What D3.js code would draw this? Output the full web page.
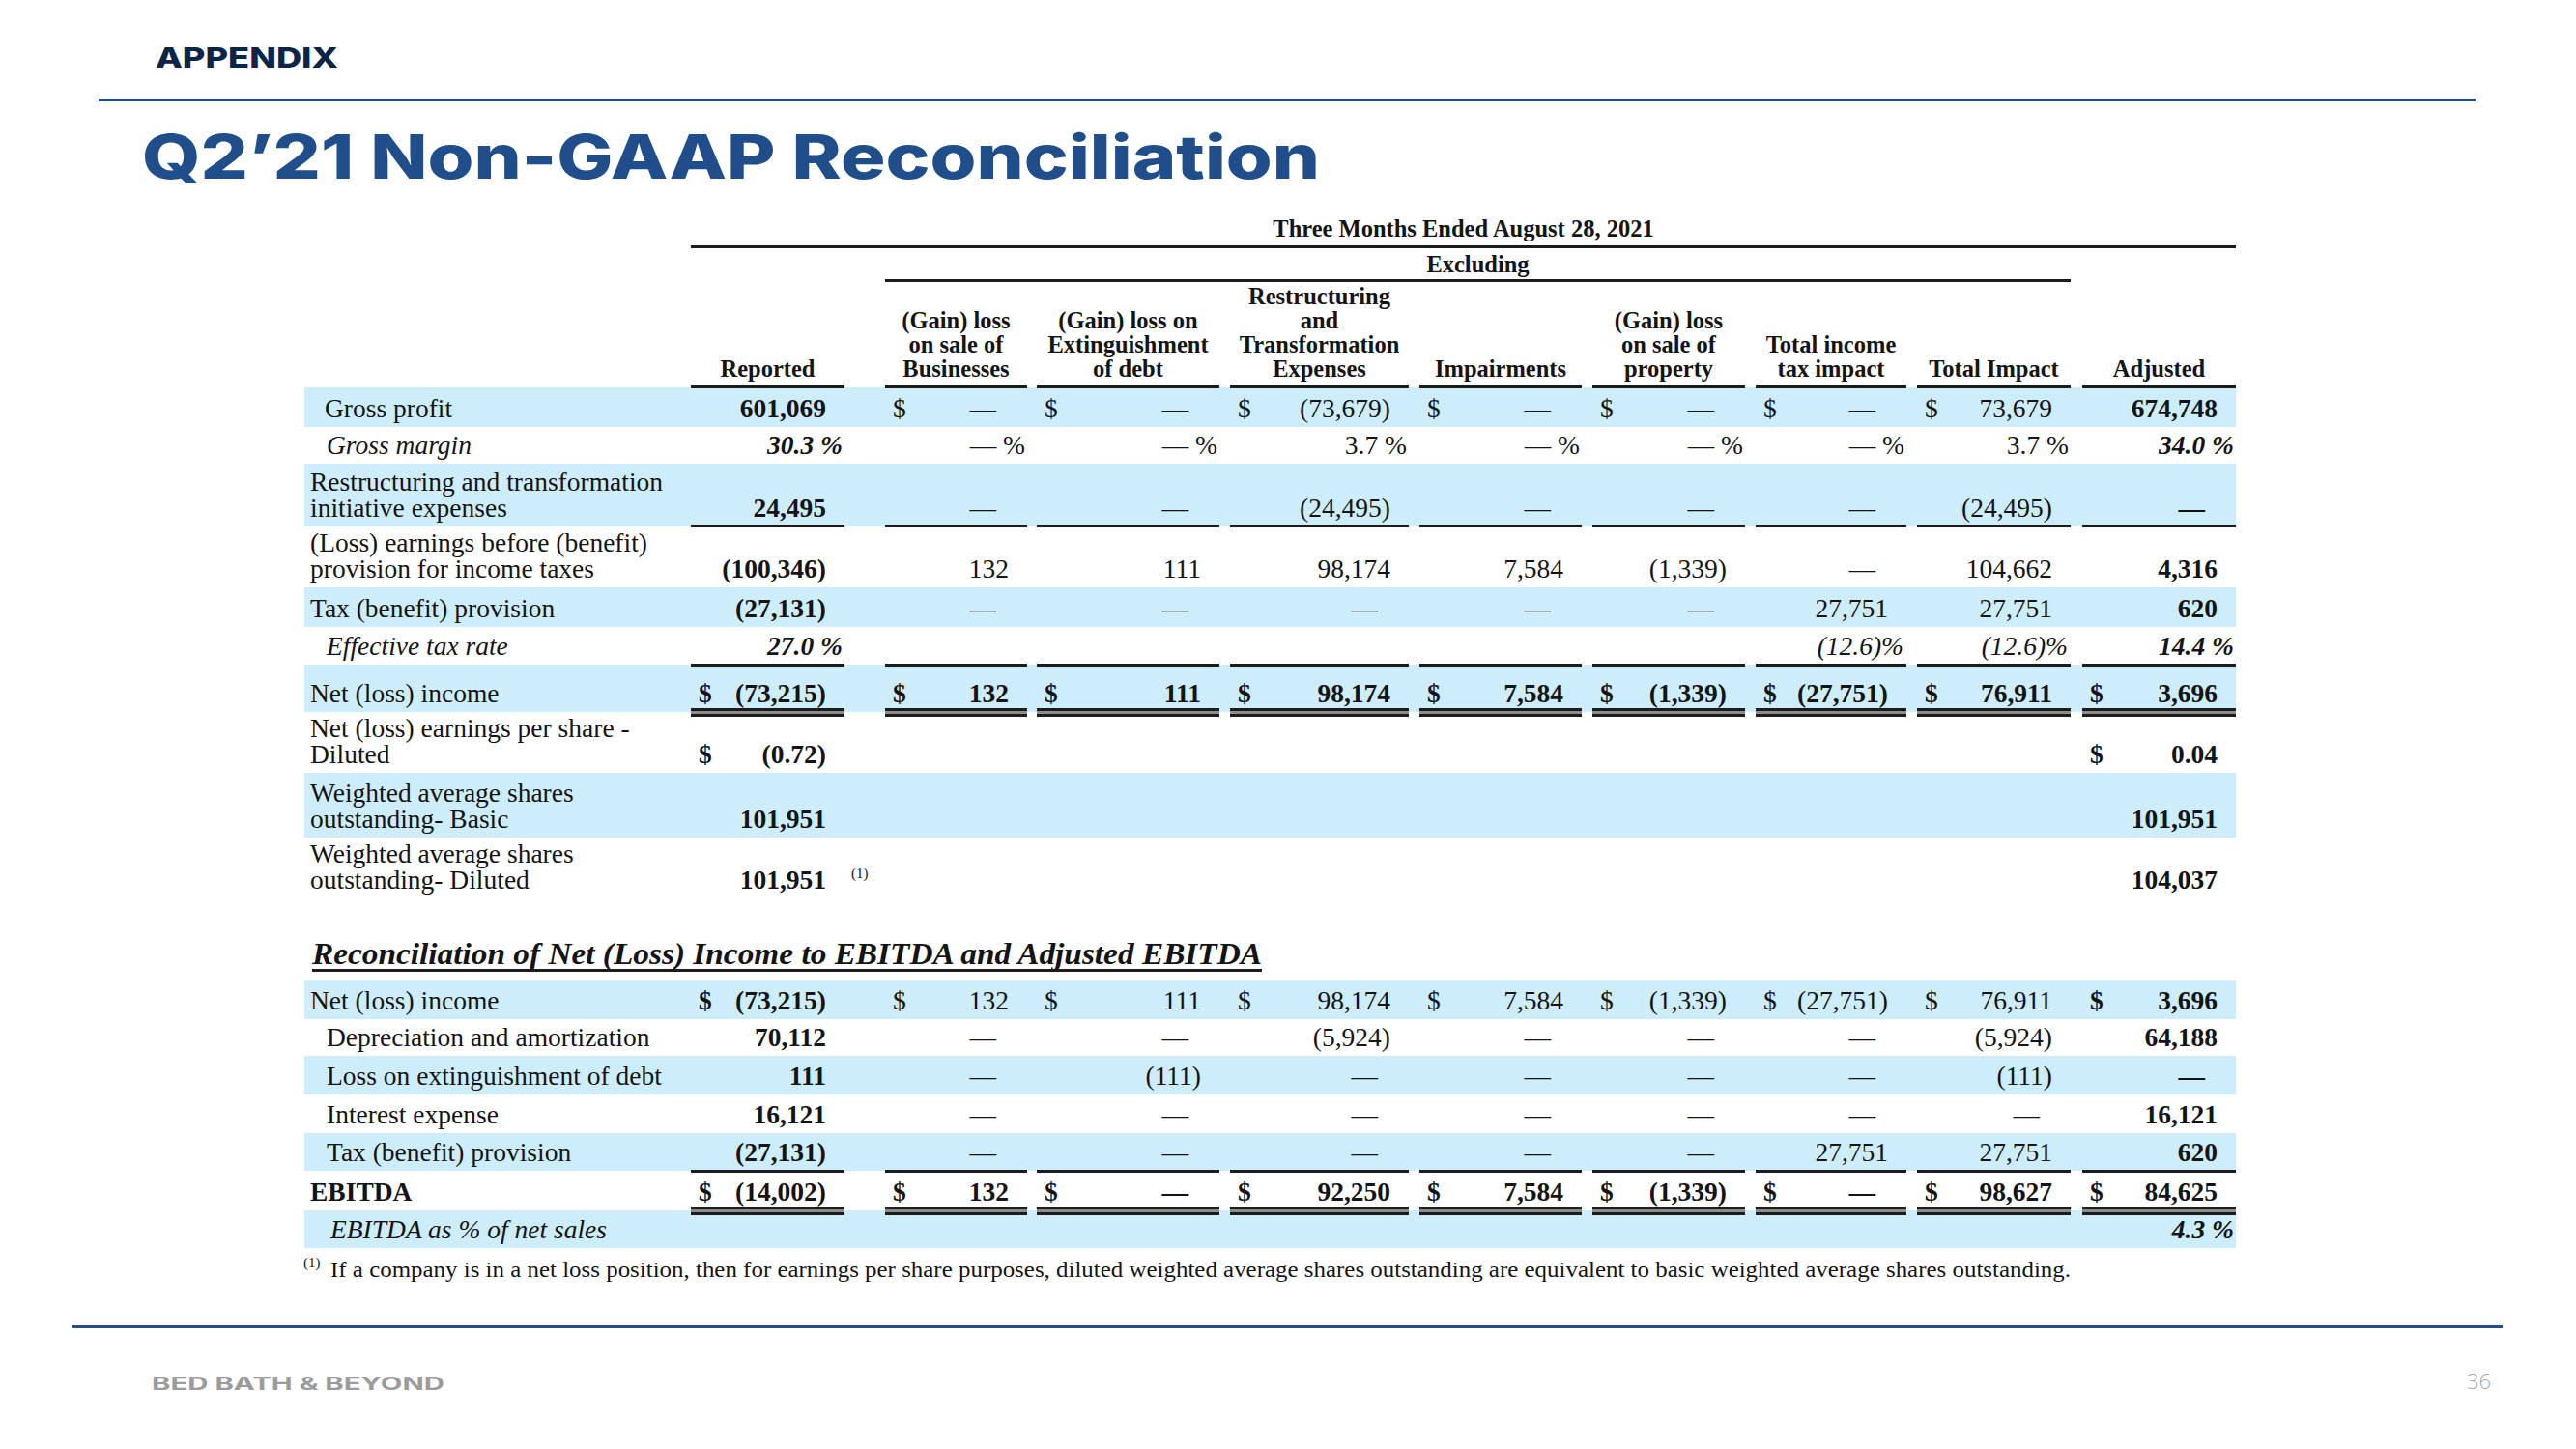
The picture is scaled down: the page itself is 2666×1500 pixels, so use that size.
<!DOCTYPE html>
<html><head><meta charset="utf-8">
<script src="https://cdn.jsdelivr.net/npm/d3@7"></script>
<style>html,body{margin:0;padding:0;background:#fff;} svg{display:block}</style>
</head><body>
<script>
// ---------------- DATA ----------------
const slideSection = "APPENDIX";
const slideTitle = "Q2\u201921 Non-GAAP Reconciliation";
const brandText = "BED BATH & BEYOND";
const pageNumber = "36";
const periodLabel = "Three Months Ended August 28, 2021";
const groupLabel = "Excluding";
const columnKeys = ["reported","businesses","extinguishment","restructuring","impairments","property","taxImpact","totalImpact","adjusted"];
const columnHeaders = [
  ["Reported"],
  ["(Gain) loss","on sale of","Businesses"],
  ["(Gain) loss on","Extinguishment","of debt"],
  ["Restructuring","and","Transformation","Expenses"],
  ["Impairments"],
  ["(Gain) loss","on sale of","property"],
  ["Total income","tax impact"],
  ["Total Impact"],
  ["Adjusted"]
];
// top section
const grossProfit      = [601069, 0, 0, -73679, 0, 0, 0, 73679, 674748];
const grossMargin      = [30.3, 0, 0, 3.7, 0, 0, 0, 3.7, 34.0];
const restructuringExp = [24495, 0, 0, -24495, 0, 0, 0, -24495, 0];
const preTaxEarnings   = [-100346, 132, 111, 98174, 7584, -1339, 0, 104662, 4316];
const taxProvision     = [-27131, 0, 0, 0, 0, 0, 27751, 27751, 620];
const effectiveTaxRate = [27.0, null, null, null, null, null, -12.6, -12.6, 14.4];
const netIncome        = [-73215, 132, 111, 98174, 7584, -1339, -27751, 76911, 3696];
const epsDiluted       = [-0.72, null, null, null, null, null, null, null, 0.04];
const sharesBasic      = [101951, null, null, null, null, null, null, null, 101951];
const sharesDiluted    = [101951, null, null, null, null, null, null, null, 104037];
// EBITDA section
const ebitdaTitle = "Reconciliation of Net (Loss) Income to EBITDA and Adjusted EBITDA";
const depreciation       = [70112, 0, 0, -5924, 0, 0, 0, -5924, 64188];
const lossExtinguishment = [111, 0, -111, 0, 0, 0, 0, -111, 0];
const interestExpense    = [16121, 0, 0, 0, 0, 0, 0, 0, 16121];
const ebitda             = [-14002, 132, 0, 92250, 7584, -1339, 0, 98627, 84625];
const ebitdaMargin       = [null, null, null, null, null, null, null, null, 4.3];
const footnoteMark = "(1)";
const footnoteText = "If a company is in a net loss position, then for earnings per share purposes, diluted weighted average shares outstanding are equivalent to basic weighted average shares outstanding.";

const ALL = [0,1,2,3,4,5,6,7,8];
const topRows = [
  {label:["Gross profit"], values:grossProfit, type:"num", dollar:[1,2,3,4,5,6,7], band:true, indent:"gp"},
  {label:["Gross margin"], values:grossMargin, type:"pct", dollar:[], labelItalic:true, indent:"in"},
  {label:["Restructuring and transformation","initiative expenses"], values:restructuringExp, type:"num", dollar:[], band:true},
  {label:["(Loss) earnings before (benefit)","provision for income taxes"], values:preTaxEarnings, type:"num", dollar:[]},
  {label:["Tax (benefit) provision"], values:taxProvision, type:"num", dollar:[], band:true},
  {label:["Effective tax rate"], values:effectiveTaxRate, type:"pct", dollar:[], labelItalic:true, italicMid:true, indent:"in"},
  {label:["Net (loss) income"], values:netIncome, type:"num", dollar:ALL, band:true, boldAll:true},
  {label:["Net (loss) earnings per share -","Diluted"], values:epsDiluted, type:"num", decimals:2, dollar:[0,8]},
  {label:["Weighted average shares","outstanding- Basic"], values:sharesBasic, type:"num", dollar:[], band:true},
  {label:["Weighted average shares","outstanding- Diluted"], values:sharesDiluted, type:"num", dollar:[], note:0}
];
const bottomRows = [
  {label:["Net (loss) income"], values:netIncome, type:"num", dollar:ALL, band:true},
  {label:["Depreciation and amortization"], values:depreciation, type:"num", dollar:[], indent:"in"},
  {label:["Loss on extinguishment of debt"], values:lossExtinguishment, type:"num", dollar:[], band:true, indent:"in"},
  {label:["Interest expense"], values:interestExpense, type:"num", dollar:[], indent:"in"},
  {label:["Tax (benefit) provision"], values:taxProvision, type:"num", dollar:[], band:true, indent:"in"},
  {label:["EBITDA"], values:ebitda, type:"num", dollar:ALL, boldAll:true, labelBold:true},
  {label:["EBITDA as % of net sales"], values:ebitdaMargin, type:"pct", dollar:[], band:true, labelItalic:true, indent:"in2"}
];

// ---------------- LAYOUT ----------------
const W = 2666, H = 1500;
const SERIF = "'Liberation Serif','Times New Roman',serif";
const SANS = "Inter, 'Open Sans', sans-serif";
const INK = "#141414", BAND = "#cdedfb", RULE = "#1c1c1c";
const colStart = [715, 916, 1073, 1273, 1469, 1648, 1817, 1984, 2155];
const colEnd   = [874, 1063, 1262, 1458, 1637, 1806, 1973, 2143, 2314];
const xStart = d3.scaleOrdinal(columnKeys, colStart);
const xEnd = d3.scaleOrdinal(columnKeys, colEnd);
const topBounds = [[401,442],[442,480],[480,545],[545,608],[608,649],[649,688],[688,737],[737,800],[800,867],[867,930]];
const bottomBounds = [[1015,1055],[1055,1093],[1093,1133],[1133,1173],[1173,1212],[1212,1253],[1253,1292]];
const bandLeft = 315, bandRight = 2314;
const labelX = {base:321, gp:336, in:338, in2:342};
const FS = 27.5;

const fmtInt = d3.format(",");
const fmt2 = d3.format(",.2f");
const fmt1 = d3.format(".1f");
function fmtNum(v, dec){ const f = dec===2 ? fmt2 : fmtInt; return v < 0 ? "(" + f(-v) + ")" : f(v); }
function fmtPct(v){ if (v===0) return "\u2014 %"; return v < 0 ? "(" + fmt1(-v) + ")%" : fmt1(v) + " %"; }

const svg = d3.select("body").append("svg").attr("width", W).attr("height", H).attr("viewBox", `0 0 ${W} ${H}`);
svg.append("rect").attr("width", W).attr("height", H).attr("fill", "#fff");

// slide chrome
svg.append("text").attr("x",161).attr("y",70).text(slideSection)
  .attr("font-family",SANS).attr("font-weight",800).attr("font-size",29).attr("fill","#0c2446")
  .attr("textLength",189).attr("lengthAdjust","spacingAndGlyphs");
svg.append("rect").attr("x",102).attr("y",102).attr("width",2460).attr("height",3).attr("fill","#1f4e8a");
svg.append("text").attr("x",147).attr("y",185).text(slideTitle)
  .attr("font-family",SANS).attr("font-weight",800).attr("font-size",63).attr("fill","#1f4e8a")
  .attr("textLength",1219).attr("lengthAdjust","spacingAndGlyphs");
svg.append("rect").attr("x",75).attr("y",1372).attr("width",2515).attr("height",3).attr("fill","#23508c");
svg.append("text").attr("x",157).attr("y",1439).text(brandText)
  .attr("font-family",SANS).attr("font-weight",700).attr("font-size",18.5).attr("fill","#9b9b9b")
  .attr("textLength",303).attr("lengthAdjust","spacingAndGlyphs");
svg.append("text").attr("x",2578).attr("y",1438).attr("text-anchor","end").text(pageNumber)
  .attr("font-family","'Open Sans',sans-serif").attr("font-weight",300).attr("font-size",22).attr("fill","#a8a8a8");

const T = svg.append("g").attr("font-family", SERIF).attr("fill", INK);

// bands
function drawBands(rows, bounds){
  rows.forEach((r,i)=>{ if(r.band){
    T.append("rect").attr("x",bandLeft).attr("y",bounds[i][0]).attr("width",bandRight-bandLeft)
      .attr("height",bounds[i][1]-bounds[i][0]).attr("fill",BAND);
  }});
}
drawBands(topRows, topBounds);
drawBands(bottomRows, bottomBounds);

// rules
function singleRule(y, keys){
  keys.forEach(k=>{
    T.append("rect").attr("x",xStart(k)).attr("y",y).attr("width",xEnd(k)-xStart(k)).attr("height",3).attr("fill",RULE);
  });
}
function doubleRule(y, keys){
  keys.forEach(k=>{
    const w = xEnd(k)-xStart(k);
    T.append("rect").attr("x",xStart(k)).attr("y",y).attr("width",w).attr("height",9).attr("fill","#8c8c8c");
    T.append("rect").attr("x",xStart(k)).attr("y",y).attr("width",w).attr("height",3).attr("fill",RULE);
    T.append("rect").attr("x",xStart(k)).attr("y",y+6).attr("width",w).attr("height",3).attr("fill",RULE);
  });
}

// header
T.append("text").attr("x",(xStart("reported")+xEnd("adjusted"))/2).attr("y",245).attr("text-anchor","middle")
  .attr("font-weight",700).attr("font-size",24.5).text(periodLabel);
T.append("rect").attr("x",xStart("reported")).attr("y",254).attr("width",xEnd("adjusted")-xStart("reported")).attr("height",3).attr("fill",RULE);
T.append("text").attr("x",(xStart("businesses")+xEnd("totalImpact"))/2).attr("y",282).attr("text-anchor","middle")
  .attr("font-weight",700).attr("font-size",24.5).text(groupLabel);
T.append("rect").attr("x",xStart("businesses")).attr("y",289).attr("width",xEnd("totalImpact")-xStart("businesses")).attr("height",3).attr("fill",RULE);
columnKeys.forEach((k,i)=>{
  const lines = columnHeaders[i];
  const cx = (xStart(k)+xEnd(k))/2;
  lines.forEach((ln,j)=>{
    T.append("text").attr("x",cx).attr("y",390-(lines.length-1-j)*25).attr("text-anchor","middle")
      .attr("font-weight",700).attr("font-size",24.5).text(ln);
  });
});
singleRule(399, columnKeys);

// rows
function drawRows(rows, bounds){
  rows.forEach((r,ri)=>{
    const base = bounds[ri][1]-10;
    const lx = labelX[r.indent || "base"];
    r.label.forEach((ln,j)=>{
      T.append("text").attr("x",lx).attr("y",base-(r.label.length-1-j)*27.5)
        .attr("font-size",FS).attr("font-style",r.labelItalic?"italic":"normal")
        .attr("font-weight",r.labelBold?700:400).text(ln);
    });
    r.values.forEach((v,i)=>{
      if (v===null || v===undefined) return;
      const k = columnKeys[i];
      const bold = r.boldAll || i===0 || i===8;
      let txt, ax, italic = false;
      if (r.type==="pct"){
        txt = fmtPct(v); ax = xEnd(k) - (v<0 ? 3 : 2);
        italic = (i===0 || i===8 || r.italicMid);
      } else if (v===0){
        txt = "\u2014"; ax = xEnd(k) - 19 - 13;
      } else {
        txt = fmtNum(v, r.decimals); ax = xEnd(k) - 19;
      }
      T.append("text").attr("x",ax).attr("y",base).attr("text-anchor","end")
        .attr("font-size",FS).attr("font-weight",bold?700:400).attr("font-style",italic?"italic":"normal").text(txt);
      if (r.dollar.includes(i)){
        T.append("text").attr("x",xStart(k)+8).attr("y",base)
          .attr("font-size",FS).attr("font-weight",bold?700:400).text("$");
      }
      if (r.note===i){
        T.append("text").attr("x",xEnd(k)+7).attr("y",base-11).attr("font-size",15).text(footnoteMark);
      }
    });
  });
}
drawRows(topRows, topBounds);
drawRows(bottomRows, bottomBounds);

// top section rules
singleRule(543, columnKeys);
singleRule(687, columnKeys);
doubleRule(733, columnKeys);
// bottom section rules
singleRule(1211, columnKeys);
doubleRule(1249, columnKeys);

// EBITDA title
T.append("text").attr("x",323).attr("y",998).attr("font-size",31).attr("font-weight",700).attr("font-style","italic")
  .attr("textLength",983).attr("lengthAdjust","spacingAndGlyphs").text(ebitdaTitle);
T.append("rect").attr("x",323).attr("y",1003).attr("width",983).attr("height",3).attr("fill",RULE);

// footnote
T.append("text").attr("x",314).attr("y",1312).attr("font-size",15).text(footnoteMark);
T.append("text").attr("x",342).attr("y",1322).attr("font-size",24)
  .attr("textLength",1801).attr("lengthAdjust","spacingAndGlyphs").text(footnoteText);
</script>
</body></html>
